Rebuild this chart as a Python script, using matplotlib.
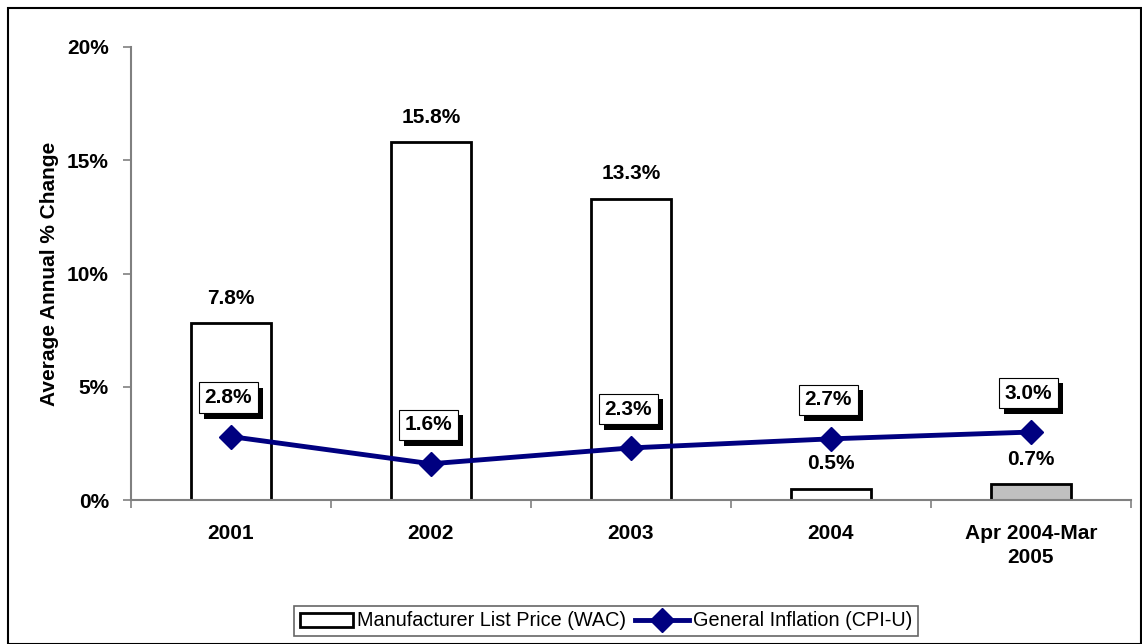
import matplotlib.pyplot as plt
import matplotlib.patheffects as pe
from matplotlib.patches import Rectangle

plt.rcParams['font.family'] = ['Liberation Sans', 'DejaVu Sans']

categories = ["2001", "2002", "2003", "2004", "Apr 2004-Mar\n2005"]
wac = [7.8, 15.8, 13.3, 0.5, 0.7]
cpi = [2.8, 1.6, 2.3, 2.7, 3.0]
bar_colors = ["white", "white", "white", "white", "#C0C0C0"]

FS = 15

fig = plt.figure(figsize=(11.42, 6.44), dpi=100)
ax = fig.add_axes([131 / 1142, 1 - 500 / 644, 1000 / 1142, 453 / 644])

x = list(range(len(categories)))
bars = ax.bar(x, wac, width=0.4, color=bar_colors, edgecolor="black", linewidth=2,
              label="Manufacturer List Price (WAC)", zorder=2)
line, = ax.plot(x, cpi, color="#000080", linewidth=3.5, marker="D", markersize=12,
                label="General Inflation (CPI-U)", zorder=3)

# bar value labels
for xi, v in zip(x, wac):
    ax.annotate(f"{v:.1f}%", (xi, v), xytext=(0, 18), textcoords="offset points",
                ha="center", va="center", fontsize=FS, fontweight="bold")

# inflation labels in shadowed boxes
for xi, v in zip(x, cpi):
    t = ax.annotate(f"{v:.1f}%", (xi, v), xytext=(-2, 28), textcoords="offset points",
                    ha="center", va="center", fontsize=FS, fontweight="bold", zorder=4,
                    bbox=dict(boxstyle="square,pad=0.28", fc="white", ec="black", lw=0.8))
    t.get_bbox_patch().set_path_effects([
        pe.SimplePatchShadow(offset=(4, -4), shadow_rgbFace="black", alpha=1.0),
        pe.Normal()])

ax.set_xlim(-0.5, 4.5)
ax.set_ylim(0, 20)
ax.set_yticks([0, 5, 10, 15, 20])
ax.set_yticklabels(["0%", "5%", "10%", "15%", "20%"])
ax.set_xticks(x)
ax.set_xticklabels(categories, linespacing=1.35)
ax.set_xticks([-0.5, 0.5, 1.5, 2.5, 3.5, 4.5], minor=True)
ax.tick_params(axis="x", which="major", length=0, pad=17)
ax.tick_params(axis="x", which="minor", length=6, color="#808080", width=1.2, direction="out")
ax.tick_params(axis="y", length=6, color="#808080", width=1.2, direction="out", pad=10)
for lab in ax.get_xticklabels() + ax.get_yticklabels():
    lab.set_fontweight("bold")
    lab.set_fontsize(FS)

for s in ["top", "right"]:
    ax.spines[s].set_visible(False)
for s in ["left", "bottom"]:
    ax.spines[s].set_color("#808080")
    ax.spines[s].set_linewidth(1.5)

ax.set_ylabel("Average Annual % Change", fontsize=FS, fontweight="bold", labelpad=6)

leg = fig.legend(handles=[bars, line], loc="center", bbox_to_anchor=(606 / 1142, 1 - 621 / 644),
                 ncol=2, frameon=True, fancybox=False, edgecolor="#404040", fontsize=14.3,
                 handlelength=2.7, handletextpad=0.2, columnspacing=0.45, borderpad=0.3,
                 borderaxespad=0)
leg.get_frame().set_linewidth(1.2)

# outer chart border
fig.patches.append(Rectangle((8 / 1142, 0), 1 - 9 / 1142, 1 - 8 / 644, transform=fig.transFigure,
                             fill=False, edgecolor="black", linewidth=1.5))

fig.savefig("out.png", dpi=100)
